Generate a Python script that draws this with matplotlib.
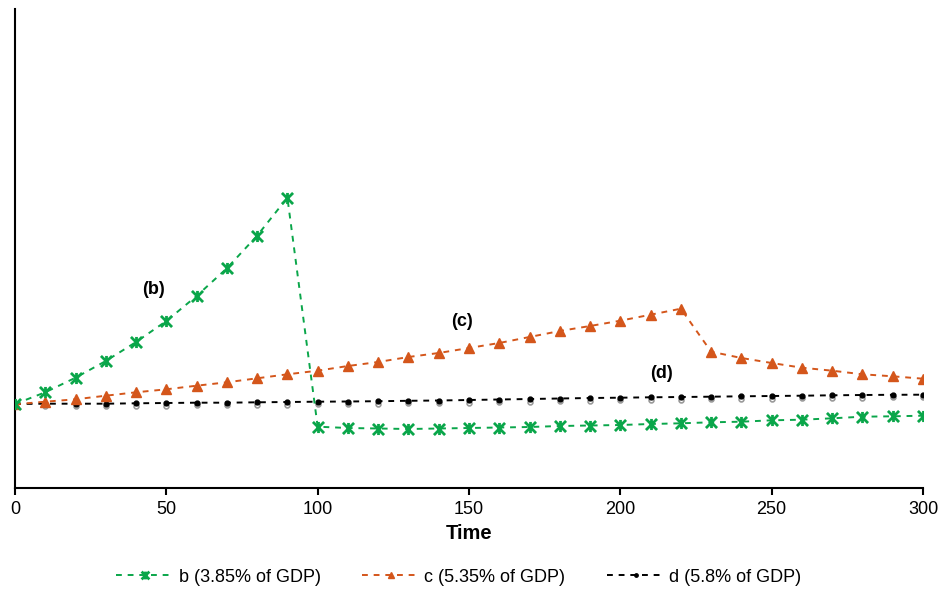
import matplotlib
matplotlib.use('Agg')
import matplotlib.pyplot as plt
from matplotlib.path import Path

plt.rcParams['font.family'] = ['Liberation Sans', 'DejaVu Sans']

time = list(range(0, 301, 10))

# values (y axis carries no labels, arbitrary units)
b_vals = [84, 95.7, 110.3, 127, 146, 167, 192, 219.7, 252.3, 290.3, 61.3,
          60, 59.5, 59, 59.5, 60, 60.5, 61, 62, 62.5, 63,
          64, 64.7, 65.7, 66.3, 67.7, 68.3, 69.7, 71.3, 71.7, 72.3]
c_vals = [83.7, 86.3, 88.7, 92.3, 95.7, 98.7, 102.3, 105.7, 109.7, 113.7, 117.3,
          122, 126, 131, 135, 140, 145, 151, 157, 162, 167.3,
          173.3, 179.3, 136.3, 130, 125, 120.3, 117.3, 113.7, 111.7, 109.3]
d_vals = [84, 84.3, 84.3, 84.3, 84.7, 85, 85.3, 85.3, 85.7, 86, 86.3,
          86.5, 86.8, 87.2, 87.5, 88, 88.5, 89, 89.5, 90, 90.3,
          90.7, 91, 91.3, 91.7, 92, 92.3, 92.7, 93, 93.2, 93.3]
a_vals = [84, 82, 82, 82, 82.2, 82.5, 82.8, 82.8, 83.2, 83.5, 83.8,
          84, 84.3, 84.7, 85, 85.5, 86, 86.5, 87, 87.5, 87.8,
          88.2, 88.5, 88.8, 89.2, 89.5, 89.8, 90.2, 90.5, 90.7, 90.8]

labels = ['b (3.85% of GDP)', 'c (5.35% of GDP)', 'd (5.8% of GDP)']
tags = ['(b)', '(c)', '(d)']
tag_pos = [(45.6, 199), (147.7, 167), (213.7, 115)]

# excel-style star: an X with a vertical bar through it
star = Path([(-1, -1), (1, 1), (-1, 1), (1, -1), (0, -1), (0, 1)],
            [Path.MOVETO, Path.LINETO, Path.MOVETO, Path.LINETO, Path.MOVETO, Path.LINETO])

fig = plt.figure(figsize=(9.42, 5.9), dpi=100)
ax = fig.add_axes([15 / 942, 1 - 488 / 590, 908 / 942, 479 / 590])

dash = (0, (3, 3))
ax.plot(time, a_vals, color='#9a9a9a', linestyle='none', marker='o',
        markersize=3.5, markerfacecolor='none', markeredgewidth=1.2, zorder=2)
ax.plot(time, d_vals, color='black', linestyle=dash, linewidth=1.4,
        marker='o', markersize=3.5, label=labels[2], zorder=3)
ax.plot(time, c_vals, color='#D4561B', linestyle=dash, linewidth=1.4,
        marker='^', markersize=7, label=labels[1], zorder=3)
ax.plot(time, b_vals, color='#0AA64A', linestyle=dash, linewidth=1.4,
        marker=star, markersize=8, markeredgewidth=2, label=labels[0], zorder=4)

for t, (x, y) in zip(tags, tag_pos):
    ax.text(x, y, t, fontsize=13, fontweight='bold', ha='center', va='center')

ax.set_xlim(0, 300)
ax.set_ylim(0, 479)
ax.set_xticks(range(0, 301, 50))
ax.set_yticks([])
ax.tick_params(axis='x', direction='out', length=5, width=1.5, labelsize=13, pad=4)
ax.spines['top'].set_visible(False)
ax.spines['right'].set_visible(False)
ax.spines['left'].set_linewidth(1.5)
ax.spines['bottom'].set_linewidth(1.5)
ax.set_xlabel('Time', fontsize=14.5, fontweight='bold', labelpad=5)

handles, lbls = ax.get_legend_handles_labels()
order = [2, 1, 0]
fig.legend([handles[i] for i in order], [lbls[i] for i in order],
           loc='center', bbox_to_anchor=(0.487, 1 - 577 / 590), ncol=3,
           frameon=False, fontsize=13, handlelength=3.2, columnspacing=2.3,
           handletextpad=0.25, markerscale=0.7)

plt.savefig('out.png', dpi=100)
